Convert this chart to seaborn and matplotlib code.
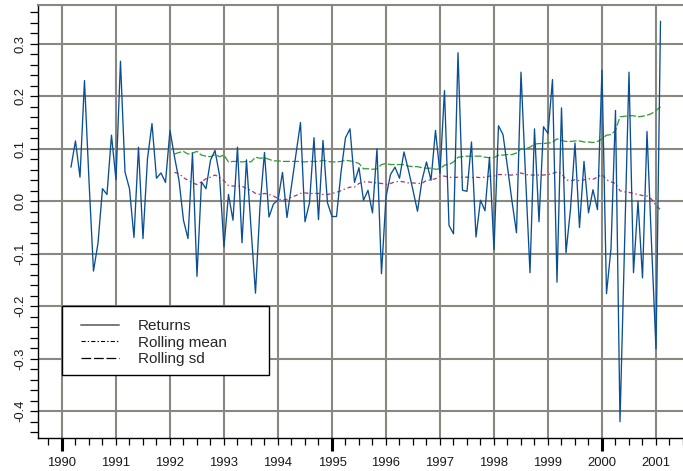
import numpy as np
import pandas as pd
import matplotlib
matplotlib.use("Agg")
import matplotlib.pyplot as plt
import seaborn as sns
from matplotlib.lines import Line2D
from matplotlib.patches import Rectangle
from matplotlib.ticker import MultipleLocator

# ---------------- data ----------------
returns_start = "1990-03"
returns = [
    0.065, 0.115, 0.046, 0.230, 0.040, -0.133, -0.080, 0.024, 0.013, 0.126,
    0.041, 0.267, 0.056, 0.024, -0.069, 0.103, -0.071, 0.081, 0.148, 0.044,
    0.054, 0.036, 0.135, 0.085, 0.040, -0.036, -0.071, 0.092, -0.143, 0.037,
    0.024, 0.078, 0.097, 0.050, -0.087, 0.013, -0.036, 0.103, -0.079, 0.079,
    -0.050, -0.175, -0.010, 0.093, -0.030, -0.005, 0.002, 0.055, -0.031, 0.030,
    0.090, 0.150, -0.039, -0.003, 0.121, -0.035, 0.116, -0.003, -0.029, -0.029,
    0.055, 0.121, 0.138, 0.036, 0.064, 0.002, 0.021, -0.022, 0.100, -0.138,
    0.008, 0.051, 0.065, 0.044, 0.094, 0.059, 0.021, -0.019, 0.040, 0.075,
    0.040, 0.135, 0.053, 0.211, -0.046, -0.062, 0.283, 0.021, 0.019, 0.113,
    -0.068, 0.002, -0.018, 0.084, -0.092, 0.144, 0.127, 0.065, 0.000, -0.060,
    0.246, 0.050, -0.136, 0.138, -0.039, 0.142, 0.129, 0.232, -0.154, 0.178,
    -0.098, -0.015, 0.111, -0.050, 0.076, -0.022, 0.022, -0.016, 0.250, -0.176,
    -0.090, 0.173, -0.420, -0.090, 0.246, -0.136, 0.000, -0.146, 0.133, -0.080,
    -0.281, 0.343,
]

rolling_start = "1992-02"
rolling_mean = [
    0.055, 0.053, 0.045, 0.040, 0.035, 0.032, 0.037, 0.043, 0.046, 0.050,
    0.046, 0.039, 0.030, 0.029, 0.029, 0.029, 0.024, 0.021, 0.015, 0.013,
    0.015, 0.013, 0.010, 0.005, 0.002, 0.004, 0.008, 0.011, 0.015, 0.016,
    0.015, 0.015, 0.015, 0.013, 0.013, 0.015, 0.017, 0.020, 0.024, 0.027,
    0.027, 0.034, 0.037, 0.037, 0.036, 0.035, 0.034, 0.032, 0.034, 0.037,
    0.038, 0.037, 0.035, 0.035, 0.034, 0.034, 0.040, 0.041, 0.043, 0.048,
    0.048, 0.046, 0.045, 0.046, 0.046, 0.046, 0.045, 0.046, 0.045, 0.046,
    0.048, 0.048, 0.051, 0.051, 0.050, 0.050, 0.051, 0.054, 0.051, 0.050,
    0.050, 0.050, 0.050, 0.051, 0.053, 0.056, 0.053, 0.041, 0.039, 0.041,
    0.039, 0.041, 0.043, 0.042, 0.046, 0.051, 0.041, 0.037, 0.034, 0.020,
    0.018, 0.017, 0.015, 0.013, 0.011, 0.010, 0.004, -0.008, -0.016,
]
rolling_sd = [
    0.090, 0.093, 0.095, 0.090, 0.092, 0.095, 0.088, 0.086, 0.085, 0.089,
    0.085, 0.088, 0.075, 0.076, 0.076, 0.075, 0.076, 0.075, 0.084, 0.082,
    0.083, 0.080, 0.077, 0.077, 0.076, 0.076, 0.076, 0.076, 0.076, 0.075,
    0.076, 0.076, 0.076, 0.078, 0.076, 0.075, 0.075, 0.076, 0.078, 0.077,
    0.075, 0.072, 0.062, 0.062, 0.061, 0.062, 0.070, 0.072, 0.070, 0.070,
    0.070, 0.070, 0.067, 0.066, 0.066, 0.064, 0.063, 0.063, 0.061, 0.062,
    0.069, 0.070, 0.075, 0.084, 0.085, 0.086, 0.086, 0.086, 0.086, 0.084,
    0.083, 0.083, 0.088, 0.088, 0.089, 0.089, 0.092, 0.100, 0.100, 0.103,
    0.109, 0.110, 0.110, 0.111, 0.112, 0.119, 0.116, 0.114, 0.114, 0.115,
    0.115, 0.113, 0.113, 0.112, 0.114, 0.119, 0.126, 0.127, 0.135, 0.161,
    0.162, 0.163, 0.163, 0.161, 0.162, 0.164, 0.167, 0.173, 0.180,
]

year_ticks = list(range(1990, 2002))
y_ticks = [-0.4, -0.3, -0.2, -0.1, 0.0, 0.1, 0.2, 0.3]
legend_labels = ["Returns", "Rolling mean", "Rolling sd"]


def decimal_year(dates):
    return dates.year + (dates.month - 1) / 12.0


d_ret = pd.date_range(returns_start, periods=len(returns), freq="MS")
d_roll = pd.date_range(rolling_start, periods=len(rolling_mean), freq="MS")
df_ret = pd.DataFrame({"t": decimal_year(d_ret), "value": returns})
df_roll = pd.DataFrame({"t": decimal_year(d_roll), "mean": rolling_mean, "sd": rolling_sd})

# ---------------- style ----------------
sns.set_theme(style="white")
plt.rcParams["font.family"] = ["Liberation Sans", "DejaVu Sans"]
plt.rcParams["axes.unicode_minus"] = False
plt.rcParams["lines.scale_dashes"] = False

W, H = 683, 471
fig = plt.figure(figsize=(W / 100, H / 100), dpi=100)
ax = fig.add_axes([38 / W, 33 / H, 645 / W, 433 / H])

grid_color = "#88887f"
ax.set_axisbelow(True)
ax.grid(True, which="major", color=grid_color, linewidth=1.5)

sns.lineplot(data=df_roll, x="t", y="sd", ax=ax, color="#2f9a2f", linewidth=0.9,
             linestyle=(0, (5, 1.6)), estimator=None)
sns.lineplot(data=df_roll, x="t", y="mean", ax=ax, color="#a3346f", linewidth=0.9,
             linestyle=(0, (3, 2, 1, 2)), estimator=None)
sns.lineplot(data=df_ret, x="t", y="value", ax=ax, color="#0b4f93", linewidth=0.95,
             estimator=None)

ax.set_xlim(1989.556, 2001.5)
ax.set_ylim(-0.451, 0.374)
ax.set_xlabel("")
ax.set_ylabel("")

ax.set_xticks(year_ticks)
ax.set_xticklabels([str(y) for y in year_ticks])
ax.xaxis.set_minor_locator(MultipleLocator(0.25))
ax.set_yticks(y_ticks)
ax.set_yticklabels([f"{v:.1f}" for v in y_ticks], rotation=90, va="center")
ax.yaxis.set_minor_locator(MultipleLocator(0.02))

ax.tick_params(axis="x", which="both", bottom=True, top=False, direction="out",
               length=5, width=0.9, color="black")
ax.tick_params(axis="x", which="major", labelsize=9.4, pad=8.5, labelcolor="#1a1a1a")
ax.tick_params(axis="y", which="both", left=True, right=False, direction="out",
               length=5.8, width=0.9, color="black")
ax.tick_params(axis="y", which="major", labelsize=9.4, pad=2.5, labelcolor="#1a1a1a")

for tick in ax.xaxis.get_major_ticks():
    if round(tick.get_loc()) in (1990, 1995, 2000):
        tick.tick1line.set_markersize(9.5)
        tick.tick1line.set_markeredgewidth(2.2)

for s in ("left", "bottom"):
    ax.spines[s].set_color("black")
    ax.spines[s].set_linewidth(1.0)
ax.spines["top"].set_color(grid_color)
ax.spines["top"].set_linewidth(1.5)
ax.spines["right"].set_visible(False)

# legend box
fig.add_artist(Rectangle((62 / W, (H - 375) / H), 207 / W, 69 / H,
                         transform=fig.transFigure, facecolor="white",
                         edgecolor="black", linewidth=1.0, zorder=3))
handles = [
    Line2D([], [], color="#7a7a7a", linewidth=1.4),
    Line2D([], [], color="black", linewidth=0.8, linestyle=(0, (3, 1.5, 1, 1.5))),
    Line2D([], [], color="black", linewidth=0.9, linestyle=(0, (7, 2))),
]
fig.legend(handles, legend_labels, loc="upper left",
           bbox_to_anchor=(81 / W, 1 - 319 / H), bbox_transform=fig.transFigure,
           frameon=False, borderpad=0, borderaxespad=0, fontsize=11,
           handlelength=2.49, handletextpad=1.24, labelspacing=0.17)

fig.savefig("out.png", dpi=100)
